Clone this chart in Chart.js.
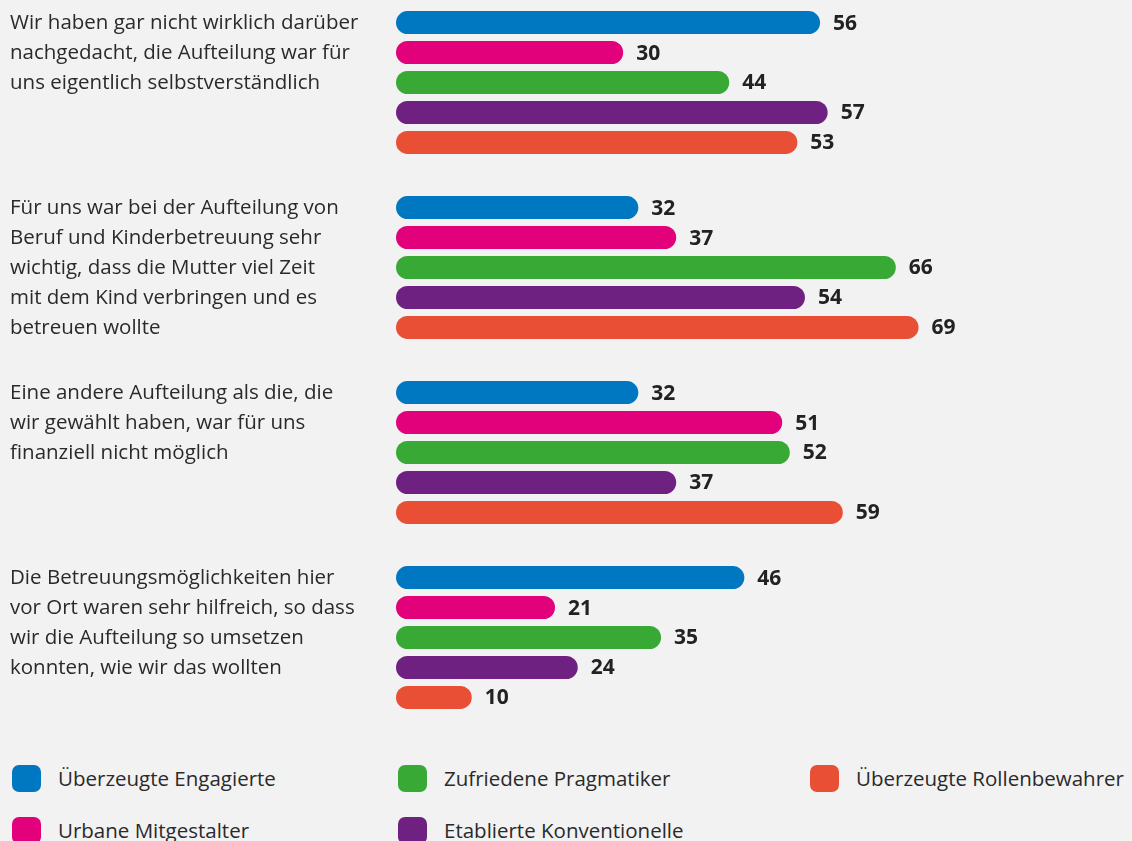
<!DOCTYPE html>
<html lang="de">
<head>
<meta charset="utf-8">
<script src="https://cdn.jsdelivr.net/npm/chart.js@4/dist/chart.umd.min.js"></script>
<style>
  html, body { margin: 0; padding: 0; background: #f2f2f2; }
  body { width: 1132px; height: 841px; position: relative; overflow: hidden; font-family: "Open Sans", sans-serif; color: #2a2a2a; }
  #wrap { position: absolute; left: 0; top: -10px; width: 1132px; height: 740px; }
  .legend { position: absolute; left: 0; top: 764px; width: 1132px; }
  .legend .item { position: absolute; display: flex; align-items: center; font-size: 20.5px; height: 28px; white-space: nowrap; }
  .legend .sw { width: 29px; height: 27px; border-radius: 7px; margin-right: 17px; }
</style>
</head>
<body>
<div id="wrap"><canvas id="myChart"></canvas></div>
<div class="legend" id="legend"></div>
<script>
// categories (line breaks as in the original)
const categories = [
  ["Wir haben gar nicht wirklich darüber", "nachgedacht, die Aufteilung war für", "uns eigentlich selbstverständlich"],
  ["Für uns war bei der Aufteilung von", "Beruf und Kinderbetreuung sehr", "wichtig, dass die Mutter viel Zeit", "mit dem Kind verbringen und es", "betreuen wollte"],
  ["Eine andere Aufteilung als die, die", "wir gewählt haben, war für uns", "finanziell nicht möglich"],
  ["Die Betreuungsmöglichkeiten hier", "vor Ort waren sehr hilfreich, so dass", "wir die Aufteilung so umsetzen", "konnten, wie wir das wollten"],
];

// series
const seriesNames = ["Überzeugte Engagierte", "Urbane Mitgestalter", "Zufriedene Pragmatiker", "Etablierte Konventionelle", "Überzeugte Rollenbewahrer"];
const engagierte = [56, 32, 32, 46];
const mitgestalter = [30, 37, 51, 21];
const pragmatiker = [44, 66, 52, 35];
const konventionelle = [57, 54, 37, 24];
const rollenbewahrer = [53, 69, 59, 10];

const colors = ["#0077c1", "#e3007b", "#39a935", "#6e2181", "#e94f35"];
const seriesValues = [engagierte, mitgestalter, pragmatiker, konventionelle, rollenbewahrer];

// draws question text (one line per bar row) and value labels
const textPlugin = {
  id: "texts",
  afterDatasetsDraw(chart) {
    const ctx = chart.ctx;
    ctx.save();
    ctx.textBaseline = "middle";
    // value labels
    ctx.font = "bold 21px 'Open Sans', sans-serif";
    ctx.fillStyle = "#222";
    ctx.textAlign = "left";
    chart.data.datasets.forEach((ds, d) => {
      chart.getDatasetMeta(d).data.forEach((bar, i) => {
        ctx.fillText(ds.data[i], bar.x + 13, bar.y + 1);
      });
    });
    // category text
    ctx.font = "20.5px 'Open Sans', sans-serif";
    ctx.fillStyle = "#2a2a2a";
    categories.forEach((lines, i) => {
      lines.forEach((line, l) => {
        const bar = chart.getDatasetMeta(l).data[i];
        ctx.fillText(line, 10, bar.y + 1);
      });
    });
    ctx.restore();
  },
};

const ctx = document.getElementById("myChart").getContext("2d");
const myChart = new Chart(ctx, {
  type: "bar",
  data: {
    labels: categories.map((c) => c.join(" ")),
    datasets: seriesNames.map((name, i) => ({
      label: name,
      data: seriesValues[i],
      backgroundColor: colors[i],
      borderRadius: 12,
      borderSkipped: false,
      categoryPercentage: 0.81,
      barPercentage: 0.77,
    })),
  },
  options: {
    indexAxis: "y",
    responsive: true,
    maintainAspectRatio: false,
    animation: false,
    layout: { padding: { left: 396, right: 9, top: 0, bottom: 0 } },
    scales: {
      x: { display: false, min: 0, max: 96 },
      y: { display: false },
    },
    plugins: { legend: { display: false }, tooltip: { enabled: false } },
  },
  plugins: [textPlugin],
});

// html legend, 3 columns
const legendPos = [[12, 0], [12, 52], [398, 0], [398, 52], [810, 0]];
const legend = document.getElementById("legend");
seriesNames.forEach((name, i) => {
  const item = document.createElement("div");
  item.className = "item";
  item.style.left = legendPos[i][0] + "px";
  item.style.top = legendPos[i][1] + "px";
  item.innerHTML = `<span class="sw" style="background:${colors[i]}"></span>${name}`;
  legend.appendChild(item);
});
</script>
</body>
</html>
